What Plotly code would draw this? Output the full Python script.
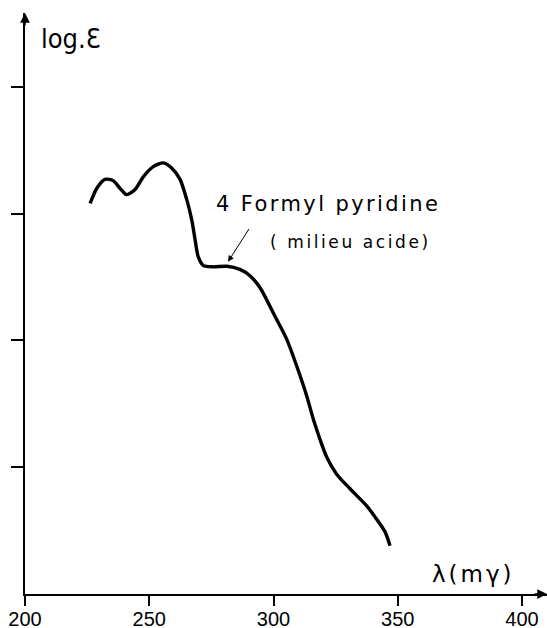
import plotly.graph_objects as go

# ---- data (y in arbitrary log-epsilon units, ticks unlabeled) ----
wavelength = [226.2, 228.9, 232.2, 235.5, 238.2, 240.9, 244.3, 247.6, 251.6, 255.7,
              259.0, 262.4, 265.1, 267.1, 268.4, 269.7, 271.8, 275.8, 281.2, 286.5,
              290.5, 294.6, 300.6, 305.3, 309.3, 313.4, 316.0, 318.7, 321.4, 325.4,
              330.8, 337.5, 341.5, 344.9, 346.9]
log_eps = [3.08, 3.20, 3.27, 3.26, 3.20, 3.15, 3.19, 3.29, 3.37, 3.40,
           3.36, 3.27, 3.11, 2.95, 2.80, 2.66, 2.59, 2.58, 2.585, 2.56,
           2.51, 2.415, 2.19, 2.01, 1.80, 1.56, 1.38, 1.22, 1.08, 0.945,
           0.83, 0.695, 0.59, 0.49, 0.38]
x_ticks = [200, 250, 300, 350, 400]
x_tick_labels = ["200", "250", "300", "350", "400"]
y_ticks = [1, 2, 3, 4]
label_arrow_tip = (281.7, 2.62)
label_arrow_tail = (290.5, 2.89)

W, H = 547, 628
ML, MR, MT, MB = 25, 0, 13, 34
PW, PH = W - ML - MR, H - MT - MB
X0, X1 = 200, 200 + PW / 2.485
Y0, Y1 = 0, PH / 126.8

def px(x):
    return (x - ML) / PW

def py(y):
    return (H - MB - y) / PH

fig = go.Figure()
fig.add_trace(go.Scatter(x=wavelength, y=log_eps, mode="lines",
                         line=dict(color="black", width=3.4, shape="spline", smoothing=0.7),
                         hoverinfo="skip", showlegend=False))

fig.update_layout(
    width=W, height=H,
    margin=dict(l=ML, r=MR, t=MT, b=MB, autoexpand=False),
    paper_bgcolor="white", plot_bgcolor="white",
    xaxis=dict(range=[X0, X1], tickvals=x_ticks, ticktext=x_tick_labels,
               ticks="outside", ticklen=10, tickwidth=1.5, tickcolor="black",
               showline=True, linecolor="black", linewidth=1.5,
               showgrid=False, zeroline=False, automargin=False,
               tickfont=dict(family="Liberation Sans, Arial, sans-serif", size=20, color="black"),
               ticklabelstandoff=-4),
    yaxis=dict(range=[Y0, Y1], tickvals=y_ticks, showticklabels=False,
               ticks="outside", ticklen=12, tickwidth=1.5, tickcolor="black",
               showline=True, linecolor="black", linewidth=1.5,
               showgrid=False, zeroline=False, automargin=False),
)

# arrowheads at the ends of the axes
fig.add_annotation(x=1.0, y=0, xref="x domain", yref="y domain", ax=-14, ay=0,
                   showarrow=True, arrowhead=2, arrowsize=1.3, arrowwidth=1.5,
                   arrowcolor="black", text="")
fig.add_annotation(x=0, y=1.0, xref="x domain", yref="y domain", ax=0, ay=14,
                   showarrow=True, arrowhead=2, arrowsize=1.3, arrowwidth=1.5,
                   arrowcolor="black", text="")

# pointer arrow to curve
fig.add_annotation(x=label_arrow_tip[0], y=label_arrow_tip[1], xref="x", yref="y",
                   ax=label_arrow_tail[0], ay=label_arrow_tail[1], axref="x", ayref="y",
                   showarrow=True, arrowhead=2, arrowsize=1.2, arrowwidth=1,
                   arrowcolor="black", text="")

fnt = "DejaVu Sans, sans-serif"
fig.add_annotation(x=px(328), y=py(204), xref="paper", yref="paper", showarrow=False,
                   text='<span style="letter-spacing:2.4px">4 Formyl pyridine</span>',
                   font=dict(family=fnt, size=21, color="black"),
                   xanchor="center", yanchor="middle")
fig.add_annotation(x=px(350), y=py(242), xref="paper", yref="paper", showarrow=False,
                   text='<span style="letter-spacing:2.6px">( milieu acide)</span>',
                   font=dict(family=fnt, size=17, color="black"),
                   xanchor="center", yanchor="middle")
fig.add_annotation(x=px(71), y=py(38), xref="paper", yref="paper", showarrow=False,
                   text="log.Ɛ",
                   font=dict(family="DejaVu Sans Condensed, DejaVu Sans, sans-serif", size=27, color="black"),
                   xanchor="center", yanchor="middle")
fig.add_annotation(x=px(473), y=py(574), xref="paper", yref="paper", showarrow=False,
                   text='<span style="letter-spacing:3px">λ(mγ)</span>',
                   font=dict(family=fnt, size=23, color="black"),
                   xanchor="center", yanchor="middle")

fig.write_html("out.html", config={"displayModeBar": False},
               post_script="document.body.style.margin='0';document.body.style.overflow='hidden';")
